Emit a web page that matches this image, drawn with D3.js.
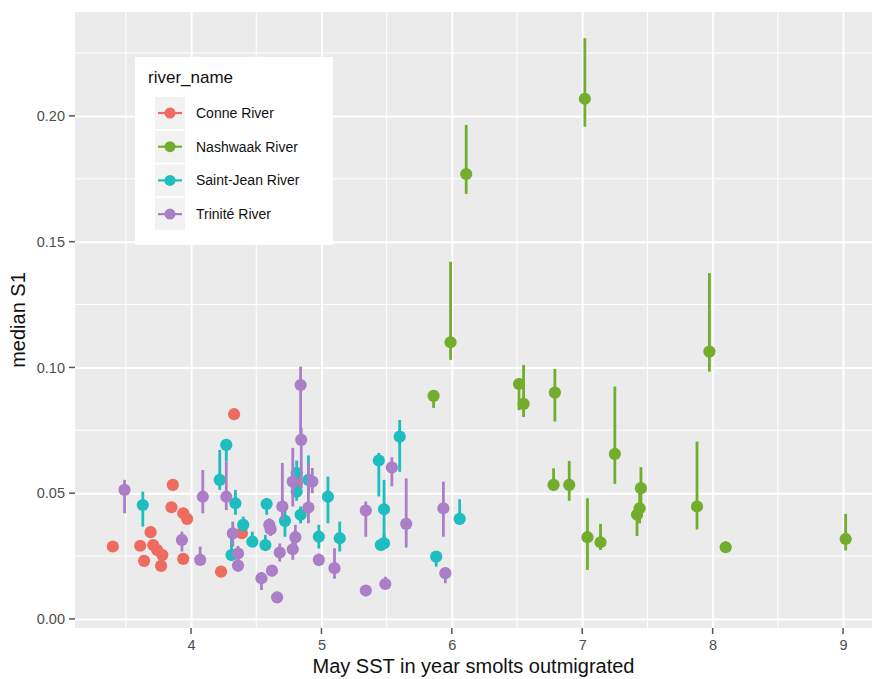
<!DOCTYPE html>
<html>
<head>
<meta charset="utf-8">
<script src="https://cdn.jsdelivr.net/npm/d3@7"></script>
<style>
  body { margin: 0; background: #fff; }
  text { font-family: "Liberation Sans", Arial, sans-serif; }
</style>
</head>
<body>
<div id="chart"></div>
<script>
// data: [May SST, median S1, lower, upper]
const conne = [
  [3.40, 0.0288], [3.61, 0.0291], [3.64, 0.0231], [3.69, 0.0345],
  [3.71, 0.0294], [3.74, 0.0274], [3.78, 0.0254], [3.77, 0.0211],
  [3.86, 0.0533], [3.85, 0.0444], [3.94, 0.0420], [3.97, 0.0398],
  [3.94, 0.0239], [4.23, 0.0188], [4.33, 0.0814], [4.39, 0.0341],
  [4.81, 0.0540]
];

const nashwaak = [
  [5.86, 0.0887, 0.0839, 0.0905], [5.99, 0.1100, 0.1030, 0.1420],
  [6.11, 0.1769, 0.1690, 0.1964], [6.515, 0.0934, 0.0830, 0.0958],
  [6.55, 0.0855, 0.0803, 0.1010], [6.78, 0.0533, 0.0510, 0.0599],
  [6.79, 0.0900, 0.0785, 0.0994], [6.90, 0.0533, 0.0470, 0.0628],
  [7.02, 0.2068, 0.1957, 0.2309], [7.04, 0.0325, 0.0195, 0.0480],
  [7.14, 0.0305, 0.0274, 0.0378], [7.25, 0.0656, 0.0537, 0.0924],
  [7.42, 0.0414, 0.0330, 0.0450], [7.44, 0.0440, 0.0380, 0.0500],
  [7.45, 0.0520, 0.0460, 0.0603], [7.88, 0.0447, 0.0356, 0.0705],
  [7.975, 0.1063, 0.0983, 0.1375], [8.10, 0.0285, 0.0270, 0.0308],
  [9.02, 0.0318, 0.0272, 0.0418]
];

const saintJean = [
  [3.63, 0.0453, 0.0367, 0.0506], [4.22, 0.0553, 0.0513, 0.0672],
  [4.27, 0.0692, 0.0626, 0.0716], [4.34, 0.0460, 0.0414, 0.0513],
  [4.40, 0.0374, 0.0347, 0.0407], [4.31, 0.0254, 0.0235, 0.0340],
  [4.47, 0.0307, 0.0290, 0.0347], [4.58, 0.0457, 0.0414, 0.0481],
  [4.57, 0.0294, 0.0270, 0.0334], [4.72, 0.0390, 0.0327, 0.0440],
  [4.81, 0.0580, 0.0500, 0.0630], [4.81, 0.0506, 0.0470, 0.0550],
  [4.84, 0.0414, 0.0380, 0.0447], [4.90, 0.0553, 0.0500, 0.0650],
  [4.98, 0.0327, 0.0280, 0.0374], [5.05, 0.0486, 0.0380, 0.0566],
  [5.14, 0.0321, 0.0268, 0.0387], [5.44, 0.0630, 0.0487, 0.0660],
  [5.48, 0.0436, 0.0320, 0.0553], [5.455, 0.0294, 0.0270, 0.0320],
  [5.48, 0.0301, 0.0280, 0.0340], [5.60, 0.0725, 0.0585, 0.0791],
  [5.88, 0.0248, 0.0208, 0.0265], [6.06, 0.0398, 0.0380, 0.0476]
];

const trinite = [
  [3.49, 0.0513, 0.0420, 0.0553], [3.93, 0.0314, 0.0268, 0.0347],
  [4.09, 0.0486, 0.0420, 0.0592], [4.07, 0.0235, 0.0215, 0.0288],
  [4.27, 0.0486, 0.0433, 0.0626], [4.32, 0.0340, 0.0288, 0.0387],
  [4.36, 0.0260, 0.0220, 0.0290], [4.36, 0.0212, 0.0190, 0.0240],
  [4.54, 0.0162, 0.0115, 0.0180], [4.62, 0.0192, 0.0170, 0.0210],
  [4.66, 0.0086, 0.0070, 0.0100], [4.68, 0.0264, 0.0228, 0.0300],
  [4.60, 0.0374, 0.0340, 0.0400], [4.61, 0.0357, 0.0330, 0.0380],
  [4.70, 0.0447, 0.0394, 0.0620], [4.78, 0.0277, 0.0235, 0.0327],
  [4.80, 0.0325, 0.0290, 0.0374], [4.78, 0.0546, 0.0447, 0.0680],
  [4.84, 0.0930, 0.0720, 0.1003], [4.845, 0.0712, 0.0520, 0.0760],
  [4.90, 0.0443, 0.0380, 0.0620], [4.93, 0.0546, 0.0500, 0.0600],
  [4.98, 0.0235, 0.0210, 0.0260], [5.10, 0.0202, 0.0160, 0.0281],
  [5.34, 0.0431, 0.0327, 0.0467], [5.54, 0.0602, 0.0527, 0.0643],
  [5.65, 0.0378, 0.0284, 0.0559], [5.935, 0.0440, 0.0327, 0.0546],
  [5.95, 0.0182, 0.0142, 0.0200], [5.34, 0.0113, 0.0090, 0.0130],
  [5.49, 0.0139, 0.0120, 0.0168]
];

const riverNames = ["Conne River", "Nashwaak River", "Saint-Jean River", "Trinité River"];
const riverColors = ["#ee6b60", "#72ad2e", "#1dbdc0", "#ab7ec8"];
const xTicks = [4, 5, 6, 7, 8, 9];
const yTicks = [0, 0.05, 0.1, 0.15, 0.2];

const width = 872;
const height = 679;
const panel = { left: 75, right: 872, top: 12, bottom: 628 };

const svg = d3.select("#chart")
  .append("svg")
  .attr("width", width)
  .attr("height", height);

// Scales
const xScale = d3.scaleLinear().domain([3.11, 9.222]).range([panel.left, panel.right]);
const yScale = d3.scaleLinear().domain([-0.0036, 0.2413]).range([panel.bottom, panel.top]);

// panel background
svg.append("rect")
  .attr("x", panel.left)
  .attr("y", panel.top)
  .attr("width", panel.right - panel.left)
  .attr("height", panel.bottom - panel.top)
  .attr("fill", "#ebebeb");

// Gridlines (minor then major)
const xMinor = xTicks.map(d => d - 0.5).concat([9.5]).filter(d => d > 3.11 && d < 9.222);
const yMinor = yTicks.map(d => d + 0.025);

const grid = svg.append("g");
grid.selectAll(".xminor").data(xMinor).join("line")
  .attr("x1", d => xScale(d)).attr("x2", d => xScale(d))
  .attr("y1", panel.top).attr("y2", panel.bottom)
  .attr("stroke", "#fff").attr("stroke-width", 1);
grid.selectAll(".yminor").data(yMinor).join("line")
  .attr("y1", d => yScale(d)).attr("y2", d => yScale(d))
  .attr("x1", panel.left).attr("x2", panel.right)
  .attr("stroke", "#fff").attr("stroke-width", 1);

const xAxisG = svg.append("g")
  .attr("transform", `translate(0,${panel.bottom})`)
  .call(d3.axisBottom(xScale).tickValues(xTicks).tickFormat(d3.format("d"))
    .tickSize(-(panel.bottom - panel.top)).tickPadding(12));
xAxisG.select(".domain").remove();
xAxisG.selectAll(".tick line").attr("stroke", "#fff").attr("stroke-width", 2);

const yAxisG = svg.append("g")
  .attr("transform", `translate(${panel.left},0)`)
  .call(d3.axisLeft(yScale).tickValues(yTicks).tickFormat(d3.format(".2f"))
    .tickSize(-(panel.right - panel.left)).tickPadding(10));
yAxisG.select(".domain").remove();
yAxisG.selectAll(".tick line").attr("stroke", "#fff").attr("stroke-width", 2);

// small outer tick marks
svg.append("g").selectAll("line").data(xTicks).join("line")
  .attr("x1", d => xScale(d)).attr("x2", d => xScale(d))
  .attr("y1", panel.bottom).attr("y2", panel.bottom + 6)
  .attr("stroke", "#555").attr("stroke-width", 1.5);
svg.append("g").selectAll("line").data(yTicks).join("line")
  .attr("y1", d => yScale(d)).attr("y2", d => yScale(d))
  .attr("x1", panel.left - 6).attr("x2", panel.left)
  .attr("stroke", "#555").attr("stroke-width", 1.5);

svg.selectAll(".tick text")
  .attr("fill", "#4d4d4d")
  .style("font-size", "14.5px");

// Axis titles
svg.append("text")
  .attr("x", (panel.left + panel.right) / 2)
  .attr("y", 673)
  .attr("text-anchor", "middle")
  .style("font-size", "20px")
  .attr("fill", "#111")
  .text("May SST in year smolts outmigrated");

svg.append("text")
  .attr("transform", `translate(25,${(panel.top + panel.bottom) / 2}) rotate(-90)`)
  .attr("text-anchor", "middle")
  .style("font-size", "20px")
  .attr("fill", "#111")
  .text("median S1");

// pointranges
const series = [conne, nashwaak, saintJean, trinite];
series.forEach((rows, i) => {
  const g = svg.append("g").attr("class", "river");
  g.selectAll("line")
    .data(rows.filter(d => d.length > 2))
    .join("line")
    .attr("x1", d => xScale(d[0])).attr("x2", d => xScale(d[0]))
    .attr("y1", d => yScale(d[2])).attr("y2", d => yScale(d[3]))
    .attr("stroke", riverColors[i])
    .attr("stroke-width", 2.8);
  g.selectAll("circle")
    .data(rows)
    .join("circle")
    .attr("cx", d => xScale(d[0]))
    .attr("cy", d => yScale(d[1]))
    .attr("r", 6.1)
    .attr("fill", riverColors[i]);
});

// Legend
const legend = svg.append("g").attr("transform", "translate(135,57)");
legend.append("rect")
  .attr("width", 198).attr("height", 188)
  .attr("fill", "#fff");
legend.append("text")
  .attr("x", 13).attr("y", 26)
  .style("font-size", "17px")
  .attr("fill", "#111")
  .text("river_name");

const items = legend.selectAll(".item")
  .data(riverNames)
  .join("g")
  .attr("transform", (d, i) => `translate(0,${56 + i * 33.7})`);
items.append("rect")
  .attr("x", 20).attr("y", -16)
  .attr("width", 30).attr("height", 32)
  .attr("fill", "#f2f2f2");
items.append("line")
  .attr("x1", 23).attr("x2", 47)
  .attr("stroke", (d, i) => riverColors[i])
  .attr("stroke-width", 2.2);
items.append("circle")
  .attr("cx", 35).attr("r", 5.5)
  .attr("fill", (d, i) => riverColors[i]);
items.append("text")
  .attr("x", 61).attr("y", 5)
  .style("font-size", "14px")
  .attr("fill", "#111")
  .text(d => d);
</script>
</body>
</html>
